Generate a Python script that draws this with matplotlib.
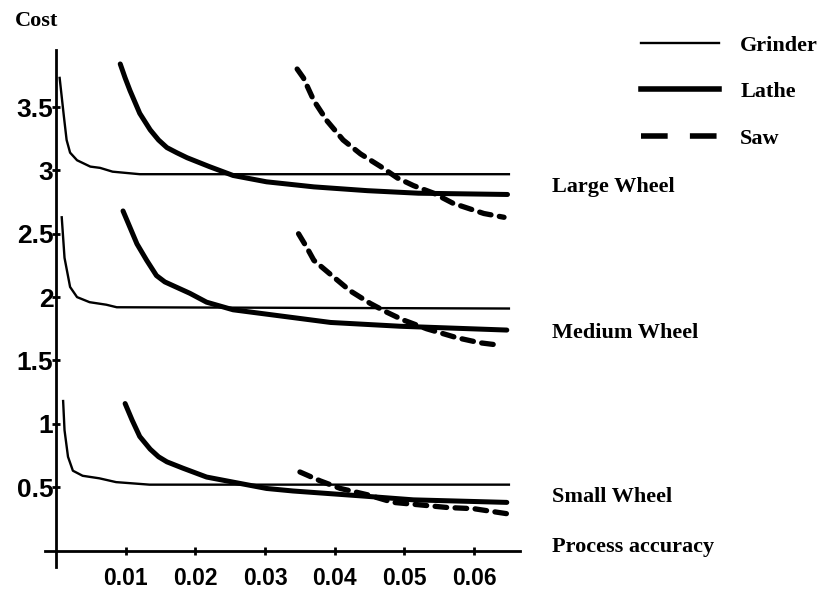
import matplotlib
matplotlib.use("Agg")
import matplotlib.pyplot as plt
from matplotlib.lines import Line2D

# values
large_grinder_x = [0.0005, 0.0011, 0.0015, 0.002, 0.003, 0.0049, 0.0063, 0.0081, 0.012, 0.065]
large_grinder_y = [3.73, 3.43, 3.24, 3.14, 3.08, 3.03, 3.02, 2.99, 2.97, 2.97]
large_lathe_x = [0.0092, 0.0099, 0.0106, 0.012, 0.0135, 0.0147, 0.0159, 0.0173, 0.0188, 0.022, 0.0254,
                 0.0302, 0.037, 0.0447, 0.052, 0.0648]
large_lathe_y = [3.84, 3.73, 3.63, 3.45, 3.32, 3.24, 3.18, 3.14, 3.10, 3.03, 2.96,
                 2.91, 2.87, 2.84, 2.82, 2.81]
large_saw_x = [0.0346, 0.0355, 0.037, 0.0389, 0.0412, 0.0437, 0.0466, 0.049, 0.0513, 0.0542, 0.057, 0.0614, 0.0643]
large_saw_y = [3.80, 3.73, 3.55, 3.39, 3.24, 3.13, 3.03, 2.94, 2.88, 2.82, 2.74, 2.66, 2.63]

medium_grinder_x = [0.0008, 0.0012, 0.002, 0.003, 0.0048, 0.0072, 0.0087, 0.065]
medium_grinder_y = [2.63, 2.31, 2.08, 2.00, 1.96, 1.94, 1.92, 1.91]
medium_lathe_x = [0.0096, 0.0106, 0.0116, 0.013, 0.0144, 0.0156, 0.0168, 0.0192, 0.0216, 0.0254, 0.031,
                  0.0394, 0.0494, 0.0647]
medium_lathe_y = [2.68, 2.55, 2.42, 2.29, 2.17, 2.12, 2.09, 2.03, 1.96, 1.90, 1.86,
                  1.80, 1.77, 1.74]
medium_saw_x = [0.0348, 0.036, 0.037, 0.0398, 0.0422, 0.0451, 0.0475, 0.0498, 0.0532, 0.0575, 0.0608, 0.0637]
medium_saw_y = [2.50, 2.39, 2.29, 2.16, 2.05, 1.95, 1.88, 1.82, 1.75, 1.68, 1.64, 1.62]

small_grinder_x = [0.001, 0.0012, 0.0017, 0.0024, 0.0038, 0.0062, 0.0086, 0.0134, 0.065]
small_grinder_y = [1.18, 0.95, 0.74, 0.63, 0.59, 0.57, 0.54, 0.52, 0.52]
small_lathe_x = [0.0099, 0.0109, 0.012, 0.0135, 0.0147, 0.0159, 0.0182, 0.0216, 0.0254, 0.0302, 0.034,
                 0.0441, 0.0513, 0.0647]
small_lathe_y = [1.16, 1.03, 0.90, 0.80, 0.74, 0.70, 0.65, 0.58, 0.54, 0.49, 0.47,
                 0.43, 0.40, 0.38]
small_saw_x = [0.035, 0.0379, 0.0408, 0.0447, 0.0484, 0.0523, 0.0561, 0.06, 0.0648]
small_saw_y = [0.62, 0.55, 0.49, 0.44, 0.38, 0.36, 0.34, 0.33, 0.29]

x_ticks = [0.01, 0.02, 0.03, 0.04, 0.05, 0.06]
x_tick_labels = ["0.01", "0.02", "0.03", "0.04", "0.05", "0.06"]
y_ticks = [0.5, 1, 1.5, 2, 2.5, 3, 3.5]
y_tick_labels = ["0.5", "1", "1.5", "2", "2.5", "3", "3.5"]
wheel_labels = ["Large Wheel", "Medium Wheel", "Small Wheel"]
wheel_label_y = [2.87, 1.72, 0.42]

sans = ["Liberation Sans", "DejaVu Sans"]
serif = ["Liberation Serif", "DejaVu Serif"]

fig = plt.figure(figsize=(8.2, 5.92), dpi=100)
ax = fig.add_axes([0.0549, 0.0422, 0.5793, 0.8733])

grinder = dict(color="black", lw=1.7)
lathe = dict(color="black", lw=3.6, solid_capstyle="round", solid_joinstyle="round")
saw = dict(color="black", lw=3.8, dashes=(2.2, 1.6), dash_capstyle="round")

ax.plot(large_grinder_x, large_grinder_y, **grinder)
ax.plot(large_lathe_x, large_lathe_y, **lathe)
ax.plot(large_saw_x, large_saw_y, **saw)
ax.plot(medium_grinder_x, medium_grinder_y, **grinder)
ax.plot(medium_lathe_x, medium_lathe_y, **lathe)
ax.plot(medium_saw_x, medium_saw_y, **saw)
ax.plot(small_grinder_x, small_grinder_y, **grinder)
ax.plot(small_lathe_x, small_lathe_y, **lathe)
ax.plot(small_saw_x, small_saw_y, **saw)

ax.set_xlim(-0.0016, 0.0666)
ax.set_ylim(-0.13, 3.95)
ax.spines["left"].set_position(("data", 0))
ax.spines["bottom"].set_position(("data", 0))
ax.spines["right"].set_visible(False)
ax.spines["top"].set_visible(False)
ax.spines["left"].set_linewidth(2)
ax.spines["bottom"].set_linewidth(2)

ax.set_xticks(x_ticks)
ax.set_xticklabels(x_tick_labels, family=sans, fontweight="bold", fontsize=16.5)
ax.set_yticks(y_ticks)
ax.set_yticklabels(y_tick_labels, family=sans, fontweight="bold", fontsize=19)
ax.tick_params(axis="x", direction="inout", length=6, width=2, pad=9)
ax.tick_params(axis="y", direction="inout", length=6, width=2, pad=-1)
ax.patch.set_visible(False)

fig.text(15 / 820, 1 - 21 / 592, "Cost", family=serif, fontweight="bold",
         fontsize=16, va="center", ha="left")
for lab, yv in zip(wheel_labels, wheel_label_y):
    ax.text(0.0712, yv, lab, family=serif, fontweight="bold", fontsize=16,
            va="center", ha="left", clip_on=False)
ax.text(0.0712, 0.03, "Process accuracy", family=serif, fontweight="bold",
        fontsize=16, va="center", ha="left", clip_on=False)

handles = [Line2D([], [], color="black", lw=1.7),
           Line2D([], [], color="black", lw=4.0),
           Line2D([], [], color="black", lw=4.0, dashes=(4.8, 4.0))]
leg = fig.legend(handles, ["Grinder", "Lathe", "Saw"], loc="upper right",
                 bbox_to_anchor=(818 / 820, 1 - 35 / 592), frameon=False,
                 borderpad=0, borderaxespad=0, handlelength=3.5,
                 labelspacing=1.17, handletextpad=0.95,
                 prop=dict(family=serif, weight="bold", size=16))

fig.savefig("out.png", dpi=100)
